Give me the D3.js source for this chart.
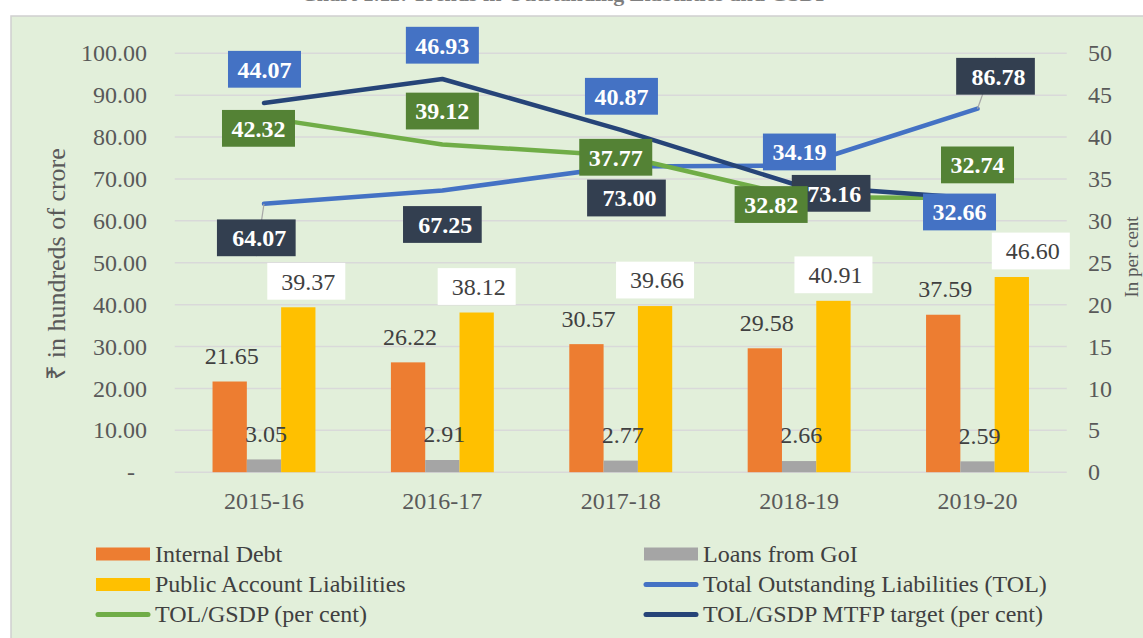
<!DOCTYPE html>
<html>
<head>
<meta charset="utf-8">
<script src="https://cdn.jsdelivr.net/npm/d3@7/dist/d3.min.js"></script>
<style>
  html, body { margin: 0; padding: 0; background: #ffffff; }
  svg { display: block; }
  text { font-family: "Liberation Serif", "Times New Roman", serif; }
</style>
</head>
<body>
<svg id="chart" width="1143" height="638"></svg>
<script>
// ---------------- data ----------------
const categories = ["2015-16", "2016-17", "2017-18", "2018-19", "2019-20"];
const internalDebt = [21.65, 26.22, 30.57, 29.58, 37.59];
const loansFromGoI = [3.05, 2.91, 2.77, 2.66, 2.59];
const publicAccount = [39.37, 38.12, 39.66, 40.91, 46.60];
const totalOutstanding = [64.07, 67.25, 73.00, 73.16, 86.78];
const tolGsdp = [42.32, 39.12, 37.77, 32.82, 32.74];
const mtfpTarget = [44.07, 46.93, 40.87, 34.19, 32.66];
const leftTicks = [0, 10, 20, 30, 40, 50, 60, 70, 80, 90, 100];
const rightTicks = [0, 5, 10, 15, 20, 25, 30, 35, 40, 45, 50];
const legendLabels = ["Internal Debt", "Loans from GoI", "Public Account Liabilities",
  "Total Outstanding Liabilities (TOL)", "TOL/GSDP (per cent)", "TOL/GSDP MTFP target (per cent)"];

// manual data-label offsets (as placed in the original chart), in px from the point
const tolLabelOffsets = [[-7.7, 34], [0, 34], [5.7, 31.6], [32, 27.6], [18, -32.4]];
const gsdpLabelOffsets = [[-5.5, 10.7], [0, -33.4], [-5, 1.5], [-28, 7.3], [0, -33]];
const mtfpLabelOffsets = [[0.5, -33.7], [0, -33.8], [0.7, -33.5], [0.3, -33.8], [-18, 13.4]];
const palLabelOffsets = [8, 0, 0, 0, 19];

// ---------------- setup ----------------
const svg = d3.select("#chart");
const FONT = '"Liberation Serif", "Times New Roman", serif';

// title (cut off at the top edge, as in the original)
svg.append("text")
  .attr("x", 565).attr("y", 1)
  .attr("text-anchor", "middle")
  .attr("font-size", 22).attr("font-weight", "bold")
  .attr("fill", "#7f7f7f")
  .text("Chart 1.11: Trends in Outstanding Liabilities and GSDP");

// chart panel
svg.append("rect")
  .attr("x", 11).attr("y", 16)
  .attr("width", 1140).attr("height", 630)
  .attr("fill", "#e2efda")
  .attr("stroke", "#d0d0d0").attr("stroke-width", 1.5);

const plotLeft = 174.8, plotRight = 1066.7, yBottom = 472.2, yTop = 53.3;

const x = d3.scaleBand().domain(categories).range([plotLeft, plotRight]).paddingInner(0).paddingOuter(0);
const barKeys = ["internal", "loans", "public"];
const xSub = d3.scaleBand().domain(barKeys).range([0, x.bandwidth()]).paddingInner(0).paddingOuter(1.1);
const yL = d3.scaleLinear().domain([0, 100]).range([yBottom, yTop]);
const yR = d3.scaleLinear().domain([0, 50]).range([yBottom, yTop]);
const cx = c => x(c) + x.bandwidth() / 2;

// gridlines
svg.append("g").selectAll("line").data(leftTicks).join("line")
  .attr("x1", plotLeft).attr("x2", plotRight)
  .attr("y1", d => yL(d)).attr("y2", d => yL(d))
  .attr("stroke", "#d9d9d9").attr("stroke-width", 1.5);

// bars
const barSeries = [
  { key: "internal", values: internalDebt, color: "#ed7d31" },
  { key: "loans", values: loansFromGoI, color: "#a5a5a5" },
  { key: "public", values: publicAccount, color: "#ffc000" }
];
const barsG = svg.append("g");
barSeries.forEach(s => {
  barsG.selectAll(null).data(s.values).join("rect")
    .attr("x", (d, i) => x(categories[i]) + xSub(s.key))
    .attr("width", xSub.bandwidth())
    .attr("y", d => yL(d))
    .attr("height", d => yBottom - yL(d))
    .attr("fill", s.color);
});

// lines
const lineL = d3.line().x((d, i) => cx(categories[i])).y(d => yL(d));
const lineR = d3.line().x((d, i) => cx(categories[i])).y(d => yR(d));
const linesG = svg.append("g").attr("fill", "none").attr("stroke-width", 4.5)
  .attr("stroke-linecap", "round").attr("stroke-linejoin", "round");
linesG.append("path").datum(totalOutstanding).attr("d", lineL).attr("stroke", "#4472c4");
linesG.append("path").datum(tolGsdp).attr("d", lineR).attr("stroke", "#70ad47");
linesG.append("path").datum(mtfpTarget).attr("d", lineR).attr("stroke", "#264478");

// bar labels
const barLblG = svg.append("g").attr("font-size", 24).attr("fill", "#404040").attr("text-anchor", "middle");
barLblG.selectAll(null).data(internalDebt).join("text")
  .attr("x", (d, i) => x(categories[i]) + xSub("internal") + xSub.bandwidth() / 2 + 2)
  .attr("y", d => yL(d) - 26).attr("dy", "0.35em")
  .text(d => d.toFixed(2));
barLblG.selectAll(null).data(loansFromGoI).join("text")
  .attr("x", (d, i) => x(categories[i]) + xSub("loans") + xSub.bandwidth() / 2 + 2)
  .attr("y", d => yL(d) - 26).attr("dy", "0.35em")
  .text(d => d.toFixed(2));
const palG = barLblG.selectAll(null).data(publicAccount).join("g")
  .attr("transform", (d, i) => `translate(${x(categories[i]) + xSub("public") + xSub.bandwidth() / 2 + palLabelOffsets[i]},${yL(d) - 26})`);
palG.append("rect").attr("x", -39).attr("y", -18.4).attr("width", 78).attr("height", 36.8).attr("fill", "#ffffff");
palG.append("text").attr("x", 2).attr("dy", "0.35em").text(d => d.toFixed(2));

// leader lines for moved labels
const leaders = [
  { i: 0, v: totalOutstanding[0], scale: yL, off: tolLabelOffsets[0], side: -1 },
  { i: 4, v: totalOutstanding[4], scale: yL, off: tolLabelOffsets[4], side: 1 }
];
svg.append("g").selectAll("line").data(leaders).join("line")
  .attr("x1", d => cx(categories[d.i])).attr("y1", d => d.scale(d.v))
  .attr("x2", d => cx(categories[d.i]) + d.off[0])
  .attr("y2", d => d.scale(d.v) + d.off[1] - d.side * 18.4)
  .attr("stroke", "#a6a6a6").attr("stroke-width", 1.2);

// line data labels (boxes)
function boxLabels(values, scale, offsets, fill, w) {
  const g = svg.append("g").selectAll(null).data(values).join("g")
    .attr("transform", (d, i) => `translate(${cx(categories[i]) + offsets[i][0]},${scale(d) + offsets[i][1]})`);
  g.append("rect").attr("x", -w / 2).attr("y", -18.4).attr("width", w).attr("height", 36.8).attr("fill", fill);
  g.append("text").attr("text-anchor", "middle").attr("dy", "0.35em")
    .attr("x", w > 75 ? 3 : 0)
    .attr("font-size", 24).attr("font-weight", "bold").attr("fill", "#ffffff")
    .text(d => d.toFixed(2));
}
boxLabels(totalOutstanding, yL, tolLabelOffsets, "#333f50", 78.7);
boxLabels(tolGsdp, yR, gsdpLabelOffsets, "#548235", 73);
boxLabels(mtfpTarget, yR, mtfpLabelOffsets, "#4472c4", 73);

// axes
const axL = svg.append("g").attr("transform", "translate(147,0)")
  .call(d3.axisLeft(yL).tickValues(leftTicks).tickSize(0).tickPadding(0)
    .tickFormat(d => d === 0 ? "-" : d3.format(".2f")(d)));
const axR = svg.append("g").attr("transform", "translate(1088,0)")
  .call(d3.axisRight(yR).tickValues(rightTicks).tickSize(0).tickPadding(0).tickFormat(d3.format("d")));
const axB = svg.append("g").attr("transform", `translate(0,${yBottom})`)
  .call(d3.axisBottom(x).tickSize(0).tickPadding(20));
[axL, axR, axB].forEach(a => {
  a.select(".domain").remove();
  a.selectAll("text").attr("font-size", 24).attr("font-family", FONT).attr("fill", "#595959");
});
axL.selectAll(".tick").filter(d => d === 0).select("text").attr("x", -12);

// axis titles
svg.append("text")
  .attr("transform", "translate(65,264) rotate(-90)")
  .attr("text-anchor", "middle").attr("font-size", 26).attr("fill", "#595959")
  .text("₹ in hundreds of crore");
svg.append("text")
  .attr("transform", "translate(1138,257) rotate(-90)")
  .attr("text-anchor", "middle").attr("font-size", 19).attr("fill", "#595959")
  .text("In per cent");

// legend
const legendItems = [
  { label: legendLabels[0], type: "rect", color: "#ed7d31", x: 96, y: 554 },
  { label: legendLabels[1], type: "rect", color: "#a5a5a5", x: 644, y: 554 },
  { label: legendLabels[2], type: "rect", color: "#ffc000", x: 96, y: 584.5 },
  { label: legendLabels[3], type: "line", color: "#4472c4", x: 644, y: 584.5 },
  { label: legendLabels[4], type: "line", color: "#70ad47", x: 96, y: 614.5 },
  { label: legendLabels[5], type: "line", color: "#264478", x: 644, y: 614.5 }
];
const lg = svg.append("g").selectAll("g").data(legendItems).join("g")
  .attr("transform", d => `translate(${d.x},${d.y})`);
lg.filter(d => d.type === "rect").append("rect")
  .attr("x", 0).attr("y", -6.5).attr("width", 54).attr("height", 13).attr("fill", d => d.color);
lg.filter(d => d.type === "line").append("line")
  .attr("x1", 2).attr("x2", 52).attr("y1", 0).attr("y2", 0)
  .attr("stroke", d => d.color).attr("stroke-width", 5).attr("stroke-linecap", "round");
lg.append("text").attr("x", 59).attr("y", 7.5)
  .attr("font-size", 24).attr("fill", "#404040").text(d => d.label);
</script>
</body>
</html>
